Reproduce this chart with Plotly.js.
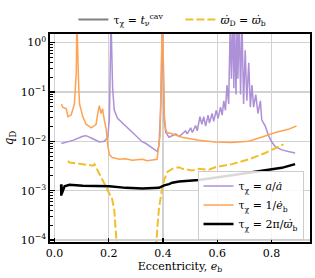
<!DOCTYPE html>
<html><head><meta charset="utf-8">
<script src="https://cdn.plot.ly/plotly-3.0.1.min.js"></script>
<style>html,body{margin:0;padding:0;background:#fff}#plot{width:315px;height:278px}</style>
</head><body><div id="plot"></div>
<script>
// tau = a / adot (purple)
const eccPurple = [0.0246,0.067,0.104,0.116,0.141,0.165,0.183,0.196,0.202,0.2055,0.208,0.214,0.220,0.232,0.251,0.269,0.287,0.300,0.324,0.337,0.361,0.379,0.385,0.392,0.395,0.397,0.404,0.410,0.422,0.434,0.447,0.459,0.471,0.483,0.489,0.502,0.508,0.520,0.526,0.536,0.543,0.550,0.557,0.566,0.571,0.581,0.587,0.596,0.603,0.612,0.618,0.624,0.630,0.636,0.642,0.648,0.652,0.657,0.661,0.664,0.669,0.673,0.676,0.681,0.686,0.691,0.697,0.703,0.709,0.716,0.722,0.728,0.734,0.742,0.750,0.759,0.764,0.777,0.789,0.801,0.814,0.838,0.862,0.887];
const qPurple = [0.00903,0.01045,0.01265,0.01303,0.01127,0.0097,0.0100,0.0121,0.0277,0.254,3,0.119,0.0431,0.0293,0.0235,0.0188,0.0151,0.0130,0.0097,0.00903,0.00724,0.00622,0.00838,0.057,0.52,3,0.0277,0.0151,0.0121,0.0130,0.0141,0.0125,0.0141,0.0163,0.0141,0.0188,0.0151,0.0209,0.0163,0.0316,0.0222,0.0316,0.0203,0.0341,0.0235,0.0366,0.0254,0.0425,0.0293,0.0492,0.0341,0.0662,0.0425,0.138,0.057,3,0.186,3,0.119,3,0.0887,3,0.186,3,0.0887,3,0.057,0.70,0.0662,0.389,0.0492,0.138,0.0492,0.0887,0.0366,0.0662,0.0273,0.0203,0.0130,0.0097,0.00777,0.00671,0.00622,0.00580];

// tau = 1 / edot (orange)
const eccOrange = [0.025,0.030,0.043,0.049,0.061,0.073,0.080,0.082,0.089,0.092,0.104,0.116,0.135,0.153,0.159,0.165,0.171,0.177,0.183,0.190,0.196,0.202,0.213,0.239,0.262,0.286,0.305,0.323,0.342,0.360,0.378,0.389,0.394,0.397,0.402,0.405,0.410,0.415,0.433,0.470,0.532,0.593,0.653,0.716,0.763,0.814,0.862,0.892];
const qOrange = [0.057,0.049,0.0457,0.0316,0.0341,0.057,0.251,3,0.120,0.057,0.0316,0.0222,0.0188,0.0222,0.0366,0.0531,0.0366,0.0457,0.0277,0.0178,0.00838,0.00537,0.00471,0.00432,0.00445,0.00412,0.00425,0.00432,0.00405,0.00412,0.00432,0.0132,0.288,3,0.288,0.0316,0.0175,0.0151,0.0143,0.0121,0.0105,0.0097,0.00944,0.0100,0.0121,0.0151,0.0175,0.0204];

// tau = 2 pi / varpi-dot (black)
const eccBlack = [0.0240,0.0246,0.0252,0.0258,0.0367,0.055,0.104,0.165,0.202,0.263,0.324,0.385,0.404,0.422,0.434,0.459,0.532,0.654,0.716,0.777,0.838,0.887];
const qBlack = [0.00132,0.00079,0.00135,0.00085,0.00123,0.00132,0.00126,0.00126,0.00123,0.00114,0.00111,0.00114,0.00128,0.00136,0.00145,0.00154,0.00165,0.00206,0.00229,0.00257,0.0029,0.00345];

// varpi-dot_D = varpi-dot_b (yellow dashed)
const eccYellow = [0.049,0.055,0.104,0.141,0.147,0.165,0.183,0.199,0.212,0.220,0.226,0.230,0.233,null,0.372,0.375,0.379,0.385,0.392,0.397,0.404,0.416,0.434,0.459,0.471,0.508,0.532,0.569,0.593,0.654,0.716,0.777,0.844];
const qYellow = [0.0040,0.00372,0.00345,0.00321,0.00345,0.00222,0.00143,0.00099,0.00068,0.00041,0.00018,0.0001,0.00004,null,0.00004,0.0001,0.00018,0.00044,0.00079,0.00114,0.00165,0.00239,0.00277,0.00299,0.00277,0.00257,0.00277,0.00265,0.00299,0.00345,0.00432,0.0058,0.00865];

const yTickVals = [1e-4,1e-3,1e-2,1e-1,1];
const yTickText = ['10<sup>−4</sup>','10<sup>−3</sup>','10<sup>−2</sup>','10<sup>−1</sup>','10<sup>0</sup>'];
const xTickVals = [0,0.2,0.4,0.6,0.8];
const xTickText = ['0.0','0.2','0.4','0.6','0.8'];

const minorVals = [];
for (let e = -5; e <= 0; e++) for (let m = 2; m <= 9; m++) minorVals.push(m * Math.pow(10, e));

const FONT = 'DejaVu Serif';

const traces = [
  {x: eccPurple, y: qPurple, mode: 'lines', line: {color: '#ad90d8', width: 1.5},
   name: 'τ<sub>χ</sub> = <i>a</i>/<i>ȧ</i>', legend: 'legend2'},
  {x: eccOrange, y: qOrange, mode: 'lines', line: {color: '#ffa352', width: 1.5},
   name: 'τ<sub>χ</sub> = 1/<i>ė</i><sub>b</sub>', legend: 'legend2'},
  {x: eccYellow, y: qYellow, mode: 'lines', line: {color: '#f0bf2c', width: 2, dash: '8px,3px'},
   connectgaps: false, name: '<i>ϖ̇</i><sub>D</sub> = <i>ϖ̇</i><sub>b</sub>', legend: 'legend'},
  {x: eccBlack, y: qBlack, mode: 'lines', line: {color: '#000000', width: 2.5},
   name: 'τ<sub>χ</sub> = 2π/<i>ϖ̇</i><sub>b</sub>', legend: 'legend2'},
  {x: [null], y: [null], mode: 'lines', line: {color: '#808080', width: 2},
   name: 'τ<sub>χ</sub> = <i>t</i><sub>ν</sub><sup>cav</sup>', legend: 'legend'}
];

const layout = {
  width: 315, height: 278,
  margin: {l: 50, r: 5, t: 23, b: 36},
  paper_bgcolor: '#fff', plot_bgcolor: '#fff',
  font: {family: FONT, size: 11, color: '#000'},
  xaxis: {
    range: [-0.017, 0.942], tickmode: 'array', tickvals: xTickVals, ticktext: xTickText,
    ticks: 'inside', ticklen: 4, tickwidth: 1.2, tickcolor: '#000',
    showgrid: true, gridcolor: '#d2d2d2', gridwidth: 1.2,
    showline: true, linecolor: '#000', linewidth: 1.6, mirror: true, zeroline: false,
    tickfont: {size: 11, family: FONT},
    title: {text: 'Eccentricity, <i>e</i><sub>b</sub>', font: {size: 11, family: FONT}, standoff: 3}
  },
  yaxis: {
    type: 'log', range: [-4.04, 0.175], tickmode: 'array', tickvals: yTickVals, ticktext: yTickText,
    ticks: 'inside', ticklen: 5, tickwidth: 1.2, tickcolor: '#000',
    showgrid: true, gridcolor: '#d2d2d2', gridwidth: 1.2,
    showline: true, linecolor: '#000', linewidth: 1.6, mirror: true, zeroline: false,
    tickfont: {size: 11, family: FONT},
    minor: {tickmode: 'array', tickvals: minorVals, ticks: 'inside', ticklen: 2.5, tickcolor: '#000', tickwidth: 1, showgrid: false},
    title: {text: '<i>q</i><sub>D</sub>', font: {size: 12, family: FONT}, standoff: 4}
  },
  legend: {
    orientation: 'h', x: 0.09, xanchor: 'left', y: 1.0, yanchor: 'bottom',
    bgcolor: 'rgba(0,0,0,0)', borderwidth: 0, font: {size: 11, family: FONT},
    entrywidth: 62, traceorder: 'reversed'
  },
  legend2: {
    x: 0.975, xanchor: 'right', y: 0.012, yanchor: 'bottom',
    bgcolor: 'rgba(255,255,255,0.85)', bordercolor: '#cccccc', borderwidth: 1,
    font: {size: 11, family: FONT}
  },
  showlegend: true
};

Plotly.newPlot('plot', traces, layout, {staticPlot: true, displayModeBar: false});
</script></body></html>
